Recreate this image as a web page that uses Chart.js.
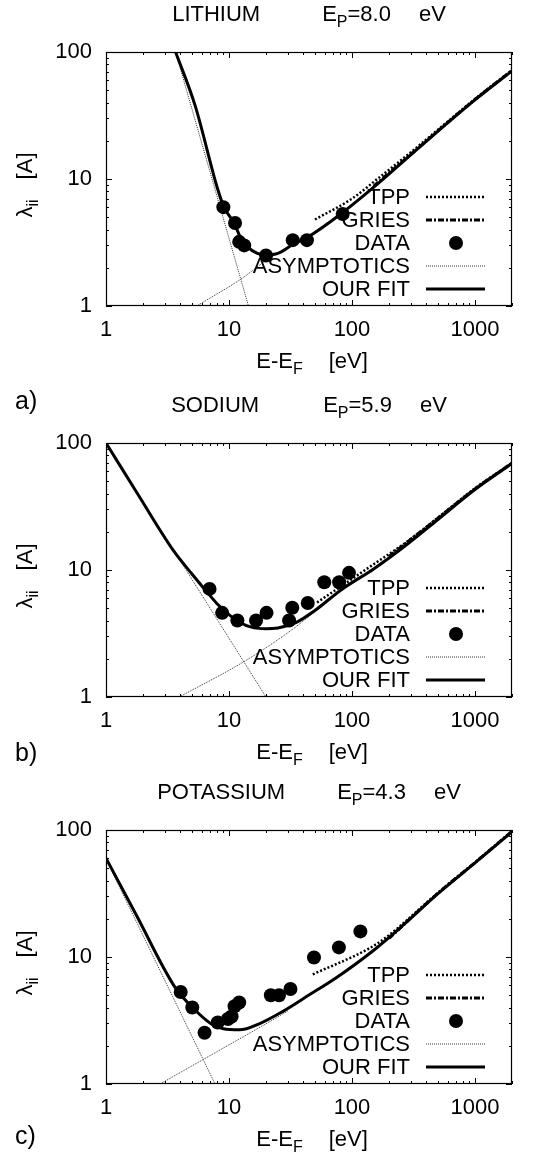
<!DOCTYPE html>
<html>
<head>
<meta charset="utf-8">
<title>Inelastic mean free path - Li, Na, K</title>
<script src="https://cdn.jsdelivr.net/npm/chart.js@4.4.1/dist/chart.umd.min.js"></script>
<style>
  html, body { margin: 0; padding: 0; background: #fff; }
  #page { position: relative; width: 537px; height: 1154px; overflow: hidden; }
  .panel { position: absolute; left: 0; width: 537px; height: 376px; }
  .tag { position: absolute; left: 15px; font: 25px "Liberation Sans", Arial, sans-serif; color: #000; line-height: 1; }
</style>
</head>
<body>
<div id="page">
  <div class="panel" style="top:0"><canvas id="li" width="537" height="376"></canvas></div>
  <div class="panel" style="top:391px"><canvas id="na" width="537" height="376"></canvas></div>
  <div class="panel" style="top:778px"><canvas id="k" width="537" height="376"></canvas></div>
  <div class="tag" style="top:388px">a)</div>
  <div class="tag" style="top:740px">b)</div>
  <div class="tag" style="top:1123px">c)</div>
</div>

<script>
// tick labels (same on all panels)
const xTicks = [1, 10, 100, 1000];
const yTicks = [1, 10, 100];

// LITHIUM  (E - E_F in eV, lambda in A)
const liDataE = [9.0, 11.2, 12.1, 13.3, 20, 33, 43, 84];
const liDataL = [6.0, 4.5, 3.2, 3.0, 2.5, 3.3, 3.3, 5.3];
const liFitE = [3.68, 5.3, 8.1, 9.1, 11, 12.5, 14, 17, 20, 25, 33, 44, 81, 167, 307, 1000, 2000];
const liFitL = [100, 38, 8.3, 6.0, 4.5, 3.4, 2.95, 2.6, 2.53, 2.6, 3.05, 3.5, 5.3, 9.4, 15.8, 42, 71];
const liTppE = [50, 100, 167, 300, 1000, 2000];
const liTppL = [4.8, 7.0, 10.3, 16.2, 42.6, 72];
const liGriesE = [150, 300, 1000, 2000];
const liGriesL = [8.8, 15.6, 42.3, 71.5];
const liAsymLowE = [3.68, 14.4];
const liAsymLowL = [100, 1];
const liAsymHighE = [5.46, 12.4, 21.5, 28];
const liAsymHighL = [1, 1.62, 2.39, 2.75];

// SODIUM
const naDataE = [6.95, 8.8, 11.7, 16.6, 20.2, 30.8, 32.7, 43.7, 59.5, 78.6, 94.6];
const naDataL = [7.1, 4.6, 4.0, 4.0, 4.6, 4.0, 5.05, 5.5, 8.0, 8.0, 9.5];
const naFitE = [1, 1.8, 3.5, 5, 6.9, 8.2, 11.8, 16, 20, 25, 35, 50, 82, 150, 273, 500, 1000, 2000];
const naFitL = [100, 40, 14.4, 9.3, 6.4, 5.3, 3.95, 3.5, 3.45, 3.5, 3.85, 4.8, 7.0, 10.2, 15.6, 25, 43, 69];
const naTppE = [52, 100, 150, 273, 500, 1000, 2000];
const naTppL = [5.55, 8.5, 11.1, 16.4, 25.8, 44, 69.5];
const naGriesE = [200, 500, 1000, 2000];
const naGriesL = [12.8, 25.6, 43.5, 69.5];
const naAsymLowE = [1, 20];
const naAsymLowL = [100, 1];
const naAsymHighE = [3.94, 13.5, 30, 51];
const naAsymHighL = [1, 1.92, 3.2, 4.75];

// POTASSIUM
const kDataE = [4.05, 5.03, 6.33, 8.1, 9.8, 10.5, 11.1, 12.1, 21.9, 25.5, 31.6, 49.1, 78.3, 117];
const kDataL = [5.3, 4.0, 2.53, 3.05, 3.25, 3.4, 4.1, 4.38, 5.0, 5.0, 5.6, 9.9, 11.9, 15.9];
const kFitE = [1, 1.75, 3.63, 5.2, 7.1, 9, 12.2, 17.6, 27, 43, 75, 145, 267, 500, 1000, 2000];
const kFitL = [60, 21.7, 5.8, 3.9, 3.0, 2.72, 2.67, 2.98, 3.7, 4.9, 6.9, 11.0, 18.2, 31.5, 55, 97];
const kTppE = [48, 136, 190, 500, 1000, 2000];
const kTppL = [7.3, 11.6, 14.3, 32, 55.5, 98];
const kGriesE = [200, 500, 1000, 2000];
const kGriesL = [14, 31.8, 55.3, 97.5];
const kAsymLowE = [1, 7.7];
const kAsymLowL = [59, 1];
const kAsymHighE = [2.75, 6.1, 24, 30];
const kAsymHighL = [1, 1.55, 3.3, 3.75];

const FONT = '"Liberation Sans", Arial, Helvetica, sans-serif';
Chart.defaults.font.family = FONT;
Chart.defaults.color = '#000';

function xy(xs, ys) {
  return xs.map((x, i) => ({ x: x, y: ys[i] }));
}

// draw a row of text pieces, some of them subscripts, centred on (cx, base)
function drawPieces(ctx, pieces, cx, base) {
  const widths = pieces.map(p => {
    if (p.gap) return p.gap;
    ctx.font = (p.sub ? '16px ' : '22px ') + FONT;
    return ctx.measureText(p.t).width;
  });
  const total = widths.reduce((a, b) => a + b, 0);
  let x = cx - total / 2;
  ctx.textAlign = 'left';
  ctx.textBaseline = 'alphabetic';
  pieces.forEach((p, i) => {
    if (!p.gap) {
      ctx.font = (p.sub ? '16px ' : '22px ') + FONT;
      ctx.fillText(p.t, x, base + (p.sub ? 6 : 0));
    }
    x += widths[i];
  });
}

// titles: panel heading above, axis titles below and left
const headings = {
  id: 'headings',
  afterDraw(chart) {
    const { ctx, chartArea: a } = chart;
    const o = chart.options.plugins.headings;
    const cx = (a.left + a.right) / 2;
    ctx.save();
    ctx.fillStyle = '#000';
    drawPieces(ctx, [{ t: o.name }, { gap: o.gap }, { t: 'E' }, { t: 'P', sub: true }, { t: '=' + o.ep }, { gap: 28 }, { t: 'eV' }], cx, a.top - 31);
    drawPieces(ctx, [{ t: 'E-E' }, { t: 'F', sub: true }, { gap: 26 }, { t: '[eV]' }], cx + 3, a.bottom + 62);
    ctx.translate(32, (a.top + a.bottom) / 2 + 6);
    ctx.rotate(-Math.PI / 2);
    drawPieces(ctx, [{ t: 'λ' }, { t: 'ii', sub: true }, { gap: 20 }, { t: '[A]' }], 0, 0);
    ctx.restore();
  }
};

// gnuplot style frame with inward ticks on all four sides
const frame = {
  id: 'frame',
  afterDatasetsDraw(chart) {
    const { ctx, chartArea: a, scales } = chart;
    ctx.save();
    ctx.strokeStyle = '#000';
    ctx.lineWidth = 1;
    ctx.beginPath();
    [1, 10, 100, 1000].forEach(d => {
      for (let m = 1; m <= 9; m++) {
        const v = m * d;
        const len = m === 1 ? 6 : 3;
        if (v >= scales.x.min && v <= scales.x.max) {
          const px = Math.round(scales.x.getPixelForValue(v)) + 0.5;
          ctx.moveTo(px, a.bottom); ctx.lineTo(px, a.bottom - len);
          ctx.moveTo(px, a.top); ctx.lineTo(px, a.top + len);
        }
        if (v >= scales.y.min && v <= scales.y.max) {
          const py = Math.round(scales.y.getPixelForValue(v)) + 0.5;
          ctx.moveTo(a.left, py); ctx.lineTo(a.left + len, py);
          ctx.moveTo(a.right, py); ctx.lineTo(a.right - len, py);
        }
      }
    });
    ctx.stroke();
    ctx.lineWidth = 1.2;
    ctx.strokeRect(a.left + 0.5, a.top + 0.5, a.right - a.left - 1, a.bottom - a.top - 1);
    ctx.restore();
  }
};

// key inside the plot, text right aligned with the sample to its right
const keyBox = {
  id: 'keyBox',
  afterDraw(chart) {
    const { ctx, chartArea: a } = chart;
    const rows = chart.data.datasets.filter(d => d.label);
    ctx.save();
    ctx.font = '22px ' + FONT;
    ctx.textAlign = 'right';
    ctx.textBaseline = 'middle';
    rows.forEach((ds, i) => {
      const y = a.bottom - 109 + i * 23;
      ctx.fillStyle = '#000';
      ctx.fillText(ds.label, a.right - 102, y + 1);
      if (ds.showLine === false) {
        ctx.beginPath();
        ctx.arc(a.right - 56, y, ds.pointRadius, 0, Math.PI * 2);
        ctx.fill();
      } else {
        ctx.strokeStyle = ds.borderColor;
        ctx.lineWidth = ds.borderWidth;
        ctx.setLineDash(ds.borderDash || []);
        ctx.beginPath();
        ctx.moveTo(a.right - 86, y);
        ctx.lineTo(a.right - 27, y);
        ctx.stroke();
      }
    });
    ctx.restore();
  }
};

function makePanel(id, name, ep, gap, s) {
  const lineBase = { pointRadius: 0, fill: false, borderColor: '#000', borderJoinStyle: 'round' };
  new Chart(document.getElementById(id), {
    type: 'line',
    data: {
      datasets: [
        Object.assign({}, lineBase, { label: 'TPP', data: xy(s.tppE, s.tppL), borderWidth: 2.5, borderDash: [2, 2], cubicInterpolationMode: 'monotone', order: 3 }),
        Object.assign({}, lineBase, { label: 'GRIES', data: xy(s.griesE, s.griesL), borderWidth: 3, borderDash: [6, 2, 2, 2], cubicInterpolationMode: 'monotone', order: 2 }),
        { label: 'DATA', data: xy(s.dataE, s.dataL), showLine: false, pointRadius: 7, pointBackgroundColor: '#000', pointBorderColor: '#000', pointBorderWidth: 0, order: 0 },
        Object.assign({}, lineBase, { label: 'ASYMPTOTICS', data: xy(s.asymLowE, s.asymLowL), borderWidth: 1, borderColor: '#333', borderDash: [1, 1], order: 5 }),
        Object.assign({}, lineBase, { label: '', data: xy(s.asymHighE, s.asymHighL), borderWidth: 1, borderColor: '#333', borderDash: [1, 1], cubicInterpolationMode: 'monotone', order: 5 }),
        Object.assign({}, lineBase, { label: 'OUR FIT', data: xy(s.fitE, s.fitL), borderWidth: 3, cubicInterpolationMode: 'monotone', order: 1 })
      ]
    },
    options: {
      responsive: false,
      animation: false,
      devicePixelRatio: 1,
      events: [],
      layout: { padding: { top: 52, right: 25, left: 0, bottom: 0 } },
      plugins: {
        legend: { display: false },
        tooltip: { enabled: false },
        headings: { name: name, ep: ep, gap: gap }
      },
      scales: {
        x: {
          type: 'logarithmic', min: 1, max: 2000,
          afterBuildTicks: sc => { sc.ticks = xTicks.map(v => ({ value: v })); },
          afterFit: sc => { sc.height = 70; },
          grid: { display: false, drawTicks: false },
          border: { display: false },
          ticks: { font: { size: 22 }, color: '#000', padding: 11, maxRotation: 0, autoSkip: false, callback: v => String(v) }
        },
        y: {
          type: 'logarithmic', min: 1, max: 100,
          afterBuildTicks: sc => { sc.ticks = yTicks.map(v => ({ value: v })); },
          afterFit: sc => { sc.width = 106; },
          grid: { display: false, drawTicks: false },
          border: { display: false },
          ticks: { font: { size: 22 }, color: '#000', padding: 14, autoSkip: false, callback: v => String(v) }
        }
      }
    },
    plugins: [frame, keyBox, headings]
  });
}

makePanel('li', 'LITHIUM', '8.0', 62, {
  dataE: liDataE, dataL: liDataL, fitE: liFitE, fitL: liFitL,
  tppE: liTppE, tppL: liTppL, griesE: liGriesE, griesL: liGriesL,
  asymLowE: liAsymLowE, asymLowL: liAsymLowL, asymHighE: liAsymHighE, asymHighL: liAsymHighL
});
makePanel('na', 'SODIUM', '5.9', 64, {
  dataE: naDataE, dataL: naDataL, fitE: naFitE, fitL: naFitL,
  tppE: naTppE, tppL: naTppL, griesE: naGriesE, griesL: naGriesL,
  asymLowE: naAsymLowE, asymLowL: naAsymLowL, asymHighE: naAsymHighE, asymHighL: naAsymHighL
});
makePanel('k', 'POTASSIUM', '4.3', 52, {
  dataE: kDataE, dataL: kDataL, fitE: kFitE, fitL: kFitL,
  tppE: kTppE, tppL: kTppL, griesE: kGriesE, griesL: kGriesL,
  asymLowE: kAsymLowE, asymLowL: kAsymLowL, asymHighE: kAsymHighE, asymHighL: kAsymHighL
});
</script>
</body>
</html>
